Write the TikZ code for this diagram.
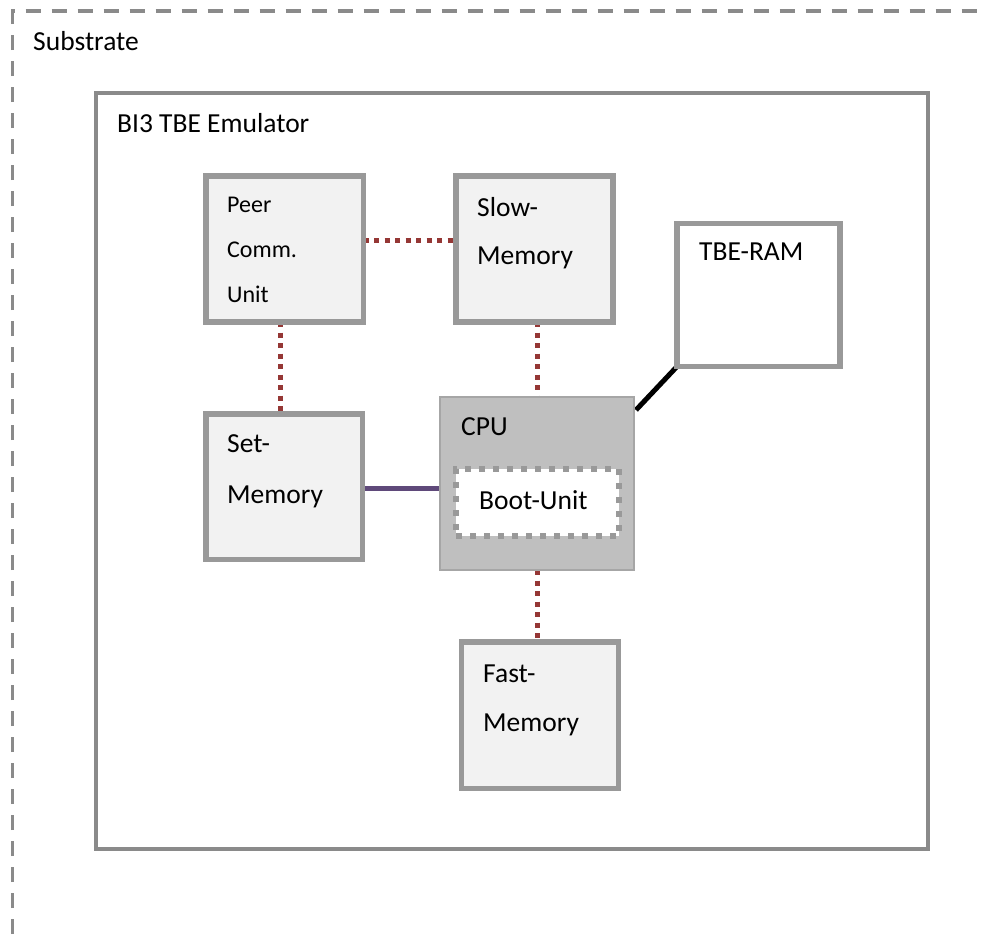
\documentclass[tikz,border=0pt]{standalone}
\usepackage{fontspec}
\setmainfont{Carlito}
\definecolor{boxgray}{HTML}{999999}
\definecolor{boxfill}{HTML}{F2F2F2}
\definecolor{outergray}{HTML}{8A8A8A}
\definecolor{cpufill}{HTML}{BFBFBF}
\definecolor{cpuedge}{HTML}{A6A6A6}
\definecolor{dotred}{HTML}{953735}
\definecolor{linkpurple}{HTML}{5F497A}
\tikzset{
  membox/.style={draw=boxgray, fill=boxfill, line width=5.5pt, rectangle, inner sep=0pt, outer sep=0pt},
  rambox/.style={draw=boxgray, fill=white, line width=5.5pt, rectangle, inner sep=0pt, outer sep=0pt},
  cpubox/.style={draw=cpuedge, fill=cpufill, line width=1.5pt, rectangle, inner sep=0pt, outer sep=0pt},
  bootbox/.style={draw=boxgray, fill=white, line width=6pt, dash pattern=on 6pt off 8pt, rectangle, inner sep=0pt, outer sep=0pt},
  txt/.style={anchor=base west, inner sep=0pt, font=\fontsize{27.5}{32}\selectfont},
  smalltxt/.style={anchor=base west, inner sep=0pt, font=\fontsize{24}{29}\selectfont},
  dotlink/.style={draw=dotred, line width=5pt, dash pattern=on 5pt off 5.5pt},
  purplelink/.style={draw=linkpurple, line width=5pt},
  blacklink/.style={draw=black, line width=5pt}
}
\begin{document}
\begin{tikzpicture}[x=1pt,y=-1pt]
\useasboundingbox (0,0) rectangle (986,938);
\clip (0,0) rectangle (986,938);
% Substrate dashed frame (extends beyond right and bottom edges)
\draw[draw=outergray, line width=3.5pt, dash pattern=on 15pt off 11pt] (12.5,960) -- (12.5,11) -- (1000,11);
\node[txt] (substrate) at (33,50) {Substrate};
% BI3 box
\node[draw=outergray, line width=3.5pt, rectangle, inner sep=0pt, outer sep=0pt,
      minimum width=832pt, minimum height=756pt] (bi3) at (512,471) {};
\node[txt] (bi3t) at (117,132) {BI3 TBE Emulator};
% boxes
\node[membox, minimum width=157.5pt, minimum height=146pt] (peer) at (284.75,249) {};
\node[membox, minimum width=157pt, minimum height=146pt] (slow) at (534.5,249) {};
\node[rambox, minimum width=163pt, minimum height=143pt] (tbe) at (758.5,295) {};
\node[membox, minimum width=156.5pt, minimum height=145.5pt] (set) at (284.25,486.75) {};
\node[cpubox, minimum width=194pt, minimum height=173pt] (cpu) at (537,483.5) {};
\node[bootbox, minimum width=163pt, minimum height=67pt] (boot) at (537.5,502.5) {};
\node[membox, minimum width=157pt, minimum height=146.5pt] (fast) at (540,715.25) {};
% connectors
\draw[dotlink] ([yshift=9pt]peer.east) -- ([yshift=9pt]peer.east -| slow.west);
\draw[dotlink] ([xshift=-4.5pt]peer.south) -- ([xshift=-4.5pt]peer.south |- set.north);
\draw[dotlink] (cpu.north |- slow.south) -- (cpu.north);
\draw[dotlink] (cpu.south) -- (cpu.south |- fast.north);
\draw[purplelink] ([yshift=-2pt]set.east) -- ([yshift=-2pt]set.east -| cpu.west);
\draw[blacklink] ([shift={(2pt,-13pt)}]cpu.north east) -- (tbe.south west);
% redraw box borders over connector ends
\draw[boxgray, line width=5.5pt] (peer.north west) rectangle (peer.south east);
\draw[boxgray, line width=5.5pt] (slow.north west) rectangle (slow.south east);
\draw[boxgray, line width=5.5pt] (set.north west) rectangle (set.south east);
\draw[boxgray, line width=5.5pt] (fast.north west) rectangle (fast.south east);
\draw[boxgray, line width=5.5pt] (tbe.north west) rectangle (tbe.south east);
\draw[cpuedge, line width=1.5pt] (cpu.north west) rectangle (cpu.south east);
% texts
\node[smalltxt] (peer1) at (227,212) {Peer};
\node[smalltxt] (peer2) at (227,257) {Comm.};
\node[smalltxt] (peer3) at (227,302) {Unit};
\node[txt] (slow1) at (477,216) {Slow-};
\node[txt] (slow2) at (477,264) {Memory};
\node[txt] (tbet) at (699,260) {TBE-RAM};
\node[txt] (set1) at (227,452) {Set-};
\node[txt] (set2) at (227,503) {Memory};
\node[txt] (cput) at (461,435) {CPU};
\node[txt] (boott) at (479,509) {Boot-Unit};
\node[txt] (fast1) at (483,682) {Fast-};
\node[txt] (fast2) at (483,731) {Memory};
\end{tikzpicture}
\end{document}
